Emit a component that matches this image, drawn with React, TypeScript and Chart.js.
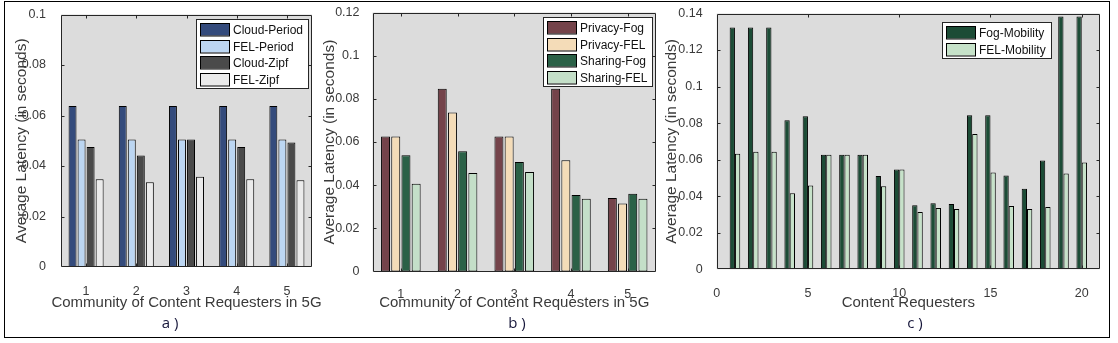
import React, { useEffect, useRef } from 'react';
import { Chart, registerables } from 'chart.js';
Chart.register(...registerables);

// ---------- data ----------
const communities = ['1', '2', '3', '4', '5'];
const cloudPeriod = [0.0638, 0.0638, 0.0638, 0.0638, 0.0638];
const felPeriod = [0.0505, 0.0505, 0.0505, 0.0505, 0.0505];
const cloudZipf = [0.0475, 0.0442, 0.0505, 0.0475, 0.0493];
const felZipf = [0.0348, 0.0336, 0.0357, 0.0348, 0.0344];

const privacyFog = [0.0626, 0.0847, 0.0626, 0.0847, 0.0341];
const privacyFel = [0.0626, 0.0737, 0.0626, 0.0516, 0.0315];
const sharingFog = [0.0539, 0.0557, 0.0507, 0.0355, 0.036];
const sharingFel = [0.0407, 0.0456, 0.0461, 0.0337, 0.0337];

const requesters = [1, 2, 3, 4, 5, 6, 7, 8, 9, 10, 11, 12, 13, 14, 15, 16, 17, 18, 19, 20];
const fogMobility = [0.1324, 0.1324, 0.1324, 0.0816, 0.0838, 0.0627, 0.0627, 0.0627, 0.051, 0.0546,
  0.0351, 0.0362, 0.0357, 0.0843, 0.0843, 0.0514, 0.0441, 0.0595, 0.1384, 0.1384];
const felMobility = [0.0632, 0.0643, 0.0643, 0.0416, 0.0459, 0.0627, 0.0627, 0.0627, 0.0454, 0.0546,
  0.0314, 0.0335, 0.033, 0.0741, 0.053, 0.0346, 0.033, 0.0341, 0.0524, 0.0584];

const yTitle = 'Average Latency (in seconds)';
const xTitleAB = 'Community of Content Requesters in 5G';
const xTitleC = 'Content Requesters';

// ---------- styling ----------
const FONT = '"Liberation Sans", Arial, sans-serif';
const TXT = '#3a3a3a';
const FRAME = '#262626';
const PLOT_BG = '#dcdcdc';

const boxPlugin = {
  id: 'matlabBox',
  beforeDatasetsDraw(chart: any) {
    const { ctx, chartArea: a } = chart;
    ctx.save();
    ctx.fillStyle = PLOT_BG;
    ctx.fillRect(a.left, a.top, a.right - a.left, a.bottom - a.top);
    ctx.restore();
  },
  afterDatasetsDraw(chart: any) {
    const { ctx, chartArea: a } = chart;
    const lo = chart.options.plugins.matlabBox || {};
    const L = Math.round(a.left) + 0.5, R = Math.round(a.right) - 0.5;
    const T = Math.round(a.top) + 0.5, B = Math.round(a.bottom) - 0.5;
    ctx.save();
    ctx.strokeStyle = FRAME;
    ctx.lineWidth = 1;
    ctx.beginPath();
    ctx.rect(L, T, R - L, B - T);
    const tl = 3;
    const ys = chart.scales.y;
    ys.ticks.forEach((_t: any, i: number) => {
      const p = Math.round(ys.getPixelForTick(i)) + 0.5;
      if (p <= T + 1 || p >= B - 1) return;
      ctx.moveTo(L, p); ctx.lineTo(L + tl, p);
      ctx.moveTo(R, p); ctx.lineTo(R - tl, p);
    });
    const xs = chart.scales.x;
    xs.ticks.forEach((_t: any, i: number) => {
      const p = Math.round(xs.getPixelForTick(i)) + 0.5;
      if (p <= L + 1 || p >= R - 1) return;
      ctx.moveTo(p, B); ctx.lineTo(p, B - tl);
      ctx.moveTo(p, T); ctx.lineTo(p, T + tl);
    });
    ctx.stroke();

    // x-axis title (drawn without width compression)
    ctx.font = `15px ${FONT}`;
    ctx.fillStyle = TXT;
    ctx.textAlign = 'center';
    ctx.textBaseline = 'middle';
    ctx.fillText(lo.xTitle, (a.left + a.right) / 2, lo.xTitleY);

    // legend box
    const ds = chart.data.datasets;
    ctx.font = `12px ${FONT}`;
    let tw = 0;
    ds.forEach((d: any) => { tw = Math.max(tw, ctx.measureText(d.label).width); });
    const pad = 3.5, sw = 29, sh = 12.5, pitch = 16.5;
    const bw = Math.round(4 + sw + 4 + tw + 5);
    const bh = Math.round(pad * 2 + (ds.length - 1) * pitch + sh);
    const bx = Math.round(a.right - lo.insetRight - bw) + 0.5;
    const by = Math.round(a.top + lo.insetTop) + 0.5;
    ctx.fillStyle = '#ffffff';
    ctx.fillRect(bx, by, bw, bh);
    ctx.strokeStyle = FRAME;
    ctx.strokeRect(bx, by, bw, bh);
    ds.forEach((d: any, i: number) => {
      const sy = Math.round(by + pad + i * pitch);
      ctx.fillStyle = d.backgroundColor;
      ctx.fillRect(bx + 4, sy, sw, sh);
      ctx.strokeStyle = '#000';
      ctx.strokeRect(bx + 4, sy + 0.5, sw, sh);
      ctx.fillStyle = '#111';
      ctx.textBaseline = 'middle';
      ctx.textAlign = 'left';
      ctx.fillText(d.label, bx + 4 + sw + 3.5, sy + sh / 2 + 1);
    });
    ctx.restore();
  },
};

type PanelSpec = {
  yMax: number;
  yWidth: number;
  yTitlePad: number;
  yTickPad: number;
  padRight: number;
  padTop: number;
  xHeight: number;
  xTickPad: number;
  xTitle: string;
  insetRight: number;
  insetTop: number;
  catPct: number;
  barPct: number;
  linearX?: boolean;
};

function buildConfig(spec: PanelSpec, labels: string[] | null, datasets: any[]) {
  const tickFont = { family: FONT, size: 12.5 };
  const yTitleFont = { family: FONT, size: 15.5 };
  const common = {
    grid: { display: false, offset: false }, border: { display: false },
    title: { display: false },
    afterFit: (s: any) => { s.height = spec.xHeight; },
  };
  const xScale: any = spec.linearX
    ? {
        ...common,
        type: 'linear', min: 0, max: 21, offset: false,
        ticks: { stepSize: 5, includeBounds: false, font: tickFont, color: TXT, padding: spec.xTickPad, maxRotation: 0 },
      }
    : {
        ...common,
        type: 'category', offset: true,
        grid: { display: false },
        ticks: { font: tickFont, color: TXT, padding: spec.xTickPad, maxRotation: 0 },
      };
  return {
    type: 'bar',
    data: labels ? { labels, datasets } : { datasets },
    options: {
      responsive: false,
      animation: false,
      devicePixelRatio: 1,
      layout: { padding: { left: 0, top: spec.padTop, right: spec.padRight, bottom: 0 } },
      datasets: { bar: { categoryPercentage: spec.catPct, barPercentage: spec.barPct } },
      scales: {
        x: xScale,
        y: {
          type: 'linear', min: 0, max: spec.yMax,
          ticks: {
            stepSize: 0.02, font: tickFont, color: TXT, padding: spec.yTickPad,
            callback: (v: any) => String(+Number(v).toFixed(3)),
          },
          grid: { display: false }, border: { display: false },
          title: { display: true, text: yTitle, font: yTitleFont, color: TXT, padding: { top: spec.yTitlePad, bottom: 0 } },
          afterFit: (s: any) => { s.width = spec.yWidth; },
        },
      },
      plugins: {
        legend: { display: false },
        tooltip: { enabled: false },
        matlabBox: { insetRight: spec.insetRight, insetTop: spec.insetTop, xTitle: spec.xTitle, xTitleY: 303.3 },
      },
    },
    plugins: [boxPlugin],
  };
}

function mk(label: string, data: any[], color: string) {
  return { label, data, backgroundColor: color, borderColor: '#000', borderWidth: 1, borderSkipped: false };
}

function Panel({ left, width, make }: { left: number; width: number; make: () => any }) {
  const ref = useRef<HTMLCanvasElement>(null);
  useEffect(() => {
    const chart = new Chart(ref.current as HTMLCanvasElement, make());
    return () => chart.destroy();
  }, []);
  return (
    <div style={{ position: 'absolute', left, top: 0, width, height: 343 }}>
      <canvas ref={ref} width={width} height={343} style={{ width, height: 343, display: 'block' }} />
    </div>
  );
}

const subStyle: React.CSSProperties = {
  position: 'absolute', top: 312, transform: 'translateX(-50%)', fontFamily: '"Open Sans", sans-serif',
  fontSize: 15, lineHeight: '20px', color: '#16163a', whiteSpace: 'pre',
};

export default function App() {
  const makeA = () => buildConfig(
    { yMax: 0.1, yWidth: 61, yTitlePad: 12.4, yTickPad: 7, padRight: 33, padTop: 12, xHeight: 76, xTickPad: 9.1,
      xTitle: xTitleAB, insetRight: 4, insetTop: 4, catPct: 0.72, barPct: 0.88 },
    communities,
    [mk('Cloud-Period', cloudPeriod, '#344b7c'), mk('FEL-Period', felPeriod, '#bcd6f2'),
     mk('Cloud-Zipf', cloudZipf, '#4a4a4a'), mk('FEL-Zipf', felZipf, '#ebebeb')],
  );
  const makeB = () => buildConfig(
    { yMax: 0.12, yWidth: 54.5, yTitlePad: 2.7, yTickPad: 5, padRight: 6, padTop: 10.5, xHeight: 71.5, xTickPad: 7.3,
      xTitle: xTitleAB, insetRight: 4.3, insetTop: 4.5, catPct: 0.72, barPct: 0.88 },
    communities,
    [mk('Privacy-Fog', privacyFog, '#74434a'), mk('Privacy-FEL', privacyFel, '#f4dcb8'),
     mk('Sharing-Fog', sharingFog, '#2b6147'), mk('Sharing-FEL', sharingFel, '#c4dfc8')],
  );
  const makeC = () => buildConfig(
    { yMax: 0.14, yWidth: 54.7, yTitlePad: 0.4, yTickPad: 6, padRight: 18, padTop: 10.7, xHeight: 73.7, xTickPad: 8.5,
      xTitle: xTitleC, insetRight: 49, insetTop: 8.6, catPct: 0.58, barPct: 1.0, linearX: true },
    null,
    [mk('Fog-Mobility', requesters.map((x, i) => ({ x, y: fogMobility[i] })), '#1c4c36'),
     mk('FEL-Mobility', requesters.map((x, i) => ({ x, y: felMobility[i] })), '#c6e2c9')],
  );
  return (
    <div style={{ position: 'fixed', left: 0, top: 0, width: 1118, height: 343, background: '#fff', overflow: 'hidden' }}>
      <Panel left={0} width={345} make={makeA} />
      <Panel left={318} width={344} make={makeB} />
      <Panel left={662} width={456} make={makeC} />
      <div style={{ ...subStyle, left: 170 }}>a )</div>
      <div style={{ ...subStyle, left: 517 }}>b )</div>
      <div style={{ ...subStyle, left: 915 }}>c )</div>
      <div style={{ position: 'absolute', left: 4, top: 1, width: 1104, height: 335, border: '1px solid #000', pointerEvents: 'none' }} />
    </div>
  );
}
